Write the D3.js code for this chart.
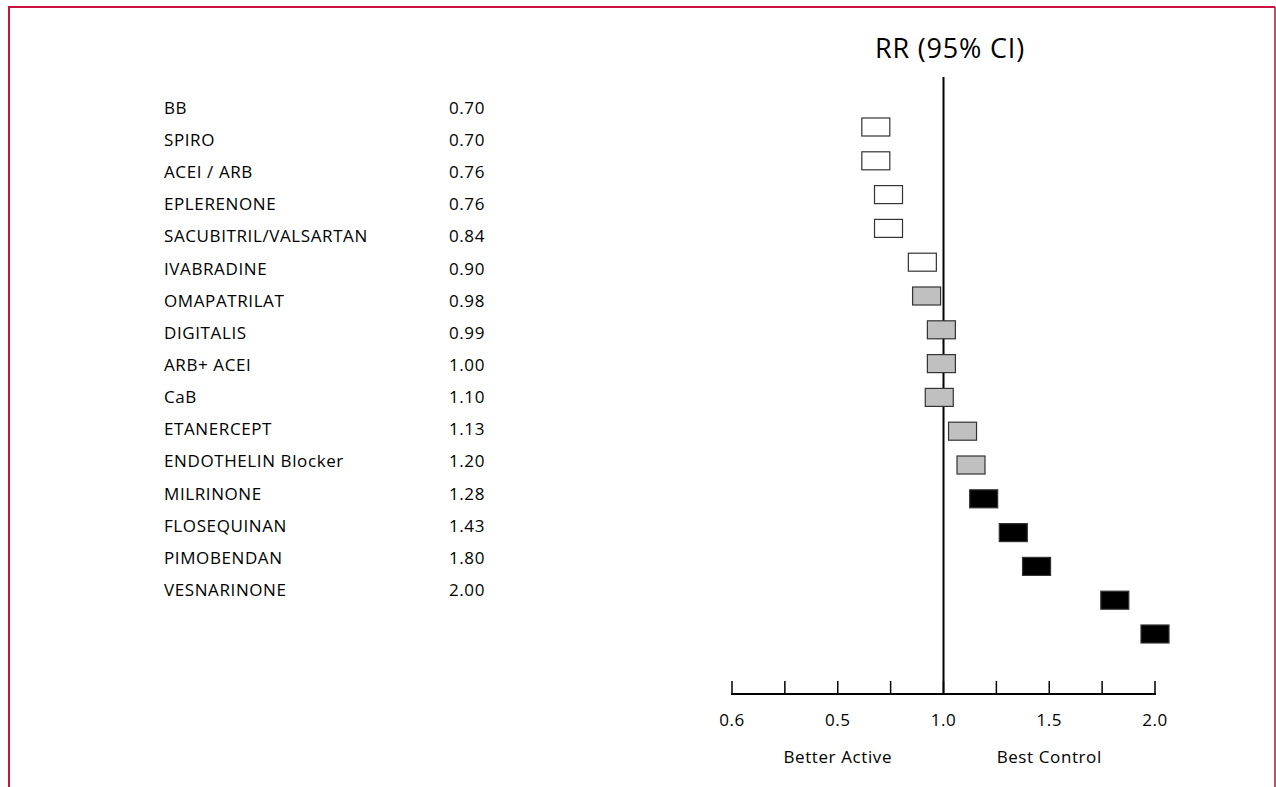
<!DOCTYPE html>
<html>
<head>
<meta charset="utf-8">
<script src="https://cdn.jsdelivr.net/npm/d3@7"></script>
<style>
  body { margin: 0; background: #fff; }
  text { font-family: "Open Sans", "Noto Sans", sans-serif; fill: #000; }
</style>
</head>
<body>
<svg id="chart"></svg>
<script>
// drug names and the RR printed next to them
var drugs = ["BB", "SPIRO", "ACEI / ARB", "EPLERENONE", "SACUBITRIL/VALSARTAN", "IVABRADINE",
  "OMAPATRILAT", "DIGITALIS", "ARB+ ACEI", "CaB", "ETANERCEPT", "ENDOTHELIN Blocker",
  "MILRINONE", "FLOSEQUINAN", "PIMOBENDAN", "VESNARINONE"];
var rrLabels = ["0.70", "0.70", "0.76", "0.76", "0.84", "0.90", "0.98", "0.99", "1.00", "1.10",
  "1.13", "1.20", "1.28", "1.43", "1.80", "2.00"];

// box positions as plotted, and their group
var boxRR = [0.68, 0.68, 0.74, 0.74, 0.90, 0.92, 0.99, 0.99, 0.98, 1.09, 1.13, 1.19, 1.33, 1.44, 1.81, 2.00];
var boxGroup = ["w", "w", "w", "w", "w", "g", "g", "g", "g", "g", "g", "b", "b", "b", "b", "b"];

// axis ticks and their (printed) labels
var tickVals = [0, 0.25, 0.5, 0.75, 1, 1.25, 1.5, 1.75, 2];
var tickLabelVals = [0, 0.5, 1, 1.5, 2];
var tickLabelText = ["0.6", "0.5", "1.0", "1.5", "2.0"];

var width = 1276, height = 787;
var fills = { w: "#ffffff", g: "#c0c0c0", b: "#000000" };
var fs = "17px", ls = "0.6px";

var svg = d3.select("#chart").attr("width", width).attr("height", height);

// frame (open at the bottom)
svg.append("path")
  .attr("d", `M9,${height} L9,7 L1275,7`)
  .attr("fill", "none").attr("stroke", "#c8143f").attr("stroke-width", 2);
svg.append("line").attr("x1", 1275).attr("x2", 1275).attr("y1", 7).attr("y2", height)
  .attr("stroke", "#a8143f").attr("stroke-width", 1.5);

// scales
var x = d3.scaleLinear().domain([0, 2]).range([732, 1155]);
var labelY = d3.scalePoint().domain(d3.range(drugs.length)).range([108, 590]);
var boxY = d3.scalePoint().domain(d3.range(boxRR.length)).range([127, 634]);
var axisY = 694;

// label table
var rows = svg.append("g").attr("class", "rows");
rows.selectAll(".name").data(drugs).enter().append("text")
  .attr("class", "name")
  .attr("x", 164).attr("y", (d, i) => labelY(i))
  .attr("dy", "0.35em").style("font-size", fs).style("letter-spacing", ls)
  .text(d => d);
rows.selectAll(".val").data(rrLabels).enter().append("text")
  .attr("class", "val")
  .attr("x", 485).attr("y", (d, i) => labelY(i))
  .attr("dy", "0.35em").attr("text-anchor", "end").style("font-size", fs).style("letter-spacing", ls)
  .text(d => d);

// title
svg.append("text").attr("x", 950).attr("y", 58).attr("text-anchor", "middle")
  .style("font-size", "27px").style("letter-spacing", "0.8px").text("RR (95% CI)");

// reference line at 1.0
svg.append("line")
  .attr("x1", x(1)).attr("x2", x(1)).attr("y1", 77).attr("y2", axisY)
  .attr("stroke", "#000").attr("stroke-width", 2);

// axis
var ax = svg.append("g");
ax.append("line").attr("x1", x(0) - 1).attr("x2", x(2) + 1).attr("y1", axisY).attr("y2", axisY)
  .attr("stroke", "#000").attr("stroke-width", 2);
ax.selectAll(".tick").data(tickVals).enter().append("line")
  .attr("x1", d => x(d)).attr("x2", d => x(d))
  .attr("y1", axisY).attr("y2", axisY - 13)
  .attr("stroke", "#000").attr("stroke-width", 1.5);
ax.selectAll(".tl").data(tickLabelVals).enter().append("text")
  .attr("x", d => x(d)).attr("y", 720).attr("dy", "0.35em")
  .attr("text-anchor", "middle").style("font-size", fs).style("letter-spacing", ls)
  .text((d, i) => tickLabelText[i]);

svg.append("text").attr("x", x(0.5)).attr("y", 757).attr("dy", "0.35em")
  .attr("text-anchor", "middle").style("font-size", fs).style("letter-spacing", ls).text("Better Active");
svg.append("text").attr("x", x(1.5)).attr("y", 757).attr("dy", "0.35em")
  .attr("text-anchor", "middle").style("font-size", fs).style("letter-spacing", ls).text("Best Control");

// boxes
var boxW = 28, boxH = 18;
svg.append("g").selectAll("rect").data(boxRR).enter().append("rect")
  .attr("x", d => x(d) - boxW / 2)
  .attr("y", (d, i) => boxY(i) - boxH / 2)
  .attr("width", boxW).attr("height", boxH)
  .attr("fill", (d, i) => fills[boxGroup[i]])
  .attr("stroke", "#333").attr("stroke-width", 1.2);
</script>
</body>
</html>
